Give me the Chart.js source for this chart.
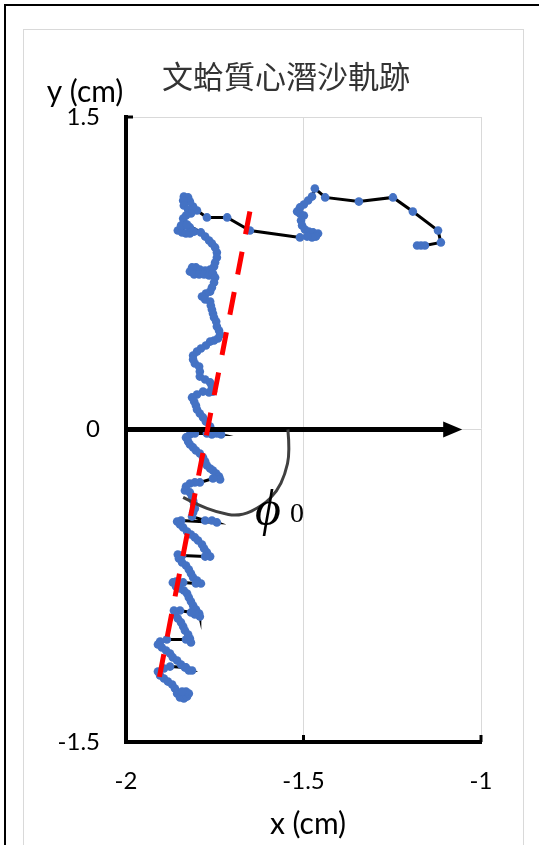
<!DOCTYPE html>
<html>
<head>
<meta charset="utf-8">
<style>
  html, body { margin: 0; padding: 0; background: #fff; }
  canvas { display: block; }
</style>
</head>
<body>
<canvas id="trackChart" width="539" height="845"></canvas>
<script src="https://cdn.jsdelivr.net/npm/chart.js@4.4.0/dist/chart.umd.min.js"></script>
<script>
// clam centroid track (cm)
const trackX = [
  -1.180,-1.169,-1.158,-1.113,-1.121,-1.192,-1.248,-1.344,-1.439,-1.468,
  -1.476,-1.487,-1.499,-1.510,-1.518,-1.510,-1.499,-1.507,-1.504,-1.496,
  -1.485,-1.473,-1.459,-1.465,-1.476,-1.490,-1.510,-1.651,-1.715,-1.772,
  -1.800,-1.811,-1.820,-1.825,-1.837,-1.839,-1.837,-1.825,-1.817,-1.831,
  -1.839,-1.837,-1.845,-1.854,-1.842,-1.831,-1.820,-1.808,-1.820,-1.831,
  -1.845,-1.828,-1.789,-1.777,-1.766,-1.758,-1.749,-1.744,-1.744,-1.749,
  -1.752,-1.763,-1.777,-1.792,-1.803,-1.814,-1.820,-1.808,-1.794,-1.780,
  -1.766,-1.755,-1.749,-1.752,-1.758,-1.763,-1.775,-1.786,-1.777,-1.763,
  -1.761,-1.758,-1.755,-1.752,-1.746,-1.744,-1.738,-1.735,-1.741,-1.752,
  -1.763,-1.775,-1.789,-1.800,-1.811,-1.811,-1.806,-1.794,-1.792,-1.792,
  -1.777,-1.763,-1.758,-1.755,-1.766,-1.783,-1.800,-1.814,-1.808,-1.803,
  -1.800,-1.792,-1.783,-1.775,-1.763,-1.755,-1.744,-1.732,-1.758,-1.772,
  -1.806,-1.820,-1.831,-1.825,-1.820,-1.811,-1.803,-1.792,-1.783,-1.777,
  -1.772,-1.763,-1.755,-1.746,-1.738,-1.735,-1.755,-1.792,-1.806,-1.820,
  -1.831,-1.834,-1.820,-1.814,-1.811,-1.808,-1.806,-1.811,-1.814,-1.777,
  -1.758,-1.744,-1.845,-1.856,-1.848,-1.839,-1.828,-1.817,-1.806,-1.797,
  -1.786,-1.780,-1.772,-1.763,-1.777,-1.842,-1.854,-1.851,-1.842,-1.831,
  -1.823,-1.817,-1.811,-1.800,-1.789,-1.803,-1.839,-1.859,-1.868,-1.859,
  -1.848,-1.837,-1.828,-1.823,-1.817,-1.811,-1.803,-1.794,-1.792,-1.806,
  -1.817,-1.848,-1.865,-1.862,-1.854,-1.845,-1.839,-1.834,-1.825,-1.820,
  -1.817,-1.831,-1.885,-1.904,-1.910,-1.899,-1.887,-1.876,-1.868,-1.856,
  -1.845,-1.834,-1.823,-1.814,-1.831,-1.876,-1.893,-1.910,-1.904,-1.893,
  -1.882,-1.870,-1.862,-1.856,-1.848,-1.837,-1.828,-1.823,-1.831,-1.842
];
const trackY = [
  0.883,0.883,0.883,0.898,0.955,1.046,1.114,1.094,1.114,1.157,
  1.118,1.099,1.080,1.066,1.046,1.037,1.027,1.003,0.979,0.960,
  0.950,0.946,0.941,0.926,0.922,0.926,0.922,0.955,1.018,1.018,
  1.051,1.070,1.094,1.114,1.118,1.099,1.075,1.056,1.037,1.027,
  1.013,0.994,0.970,0.955,0.946,0.941,0.941,0.950,0.970,0.979,
  0.979,0.984,0.946,0.926,0.907,0.893,0.874,0.850,0.826,0.802,
  0.782,0.768,0.763,0.768,0.778,0.778,0.758,0.744,0.744,0.744,
  0.739,0.749,0.730,0.706,0.682,0.662,0.653,0.638,0.624,0.614,
  0.595,0.576,0.557,0.538,0.518,0.494,0.475,0.456,0.437,0.427,
  0.422,0.403,0.389,0.374,0.355,0.336,0.317,0.302,0.278,0.254,
  0.240,0.226,0.206,0.182,0.178,0.182,0.168,0.154,0.134,0.115,
  0.096,0.077,0.058,0.038,0.014,-0.010,-0.019,-0.024,-0.024,-0.019,
  -0.019,-0.024,-0.038,-0.058,-0.072,-0.086,-0.101,-0.115,-0.134,-0.154,
  -0.173,-0.187,-0.197,-0.211,-0.226,-0.240,-0.235,-0.254,-0.254,-0.259,
  -0.274,-0.293,-0.302,-0.322,-0.341,-0.360,-0.379,-0.398,-0.418,-0.437,
  -0.437,-0.446,-0.437,-0.442,-0.456,-0.470,-0.490,-0.504,-0.518,-0.533,
  -0.552,-0.571,-0.590,-0.610,-0.610,-0.605,-0.600,-0.619,-0.638,-0.653,
  -0.672,-0.691,-0.710,-0.725,-0.739,-0.739,-0.734,-0.730,-0.734,-0.754,
  -0.763,-0.773,-0.787,-0.806,-0.826,-0.845,-0.864,-0.883,-0.898,-0.888,
  -0.878,-0.869,-0.869,-0.888,-0.907,-0.926,-0.946,-0.965,-0.984,-1.003,
  -1.022,-1.008,-1.008,-1.018,-1.032,-1.046,-1.061,-1.075,-1.094,-1.109,
  -1.128,-1.142,-1.157,-1.157,-1.142,-1.138,-1.147,-1.162,-1.181,-1.195,
  -1.210,-1.224,-1.243,-1.267,-1.286,-1.291,-1.282,-1.267,-1.258,-1.258
];

// red dashed trend line
const trendX = [-1.651, -1.910];
const trendY = [1.046, -1.224];

// arrow along y = 0 and the phi0 arc
const arrowX = [-2, -1.053];
const arcX = [-1.544, -1.538, -1.552, -1.575, -1.614, -1.679, -1.744, -1.800, -1.839];
const arcY = [0, -0.110, -0.216, -0.298, -0.365, -0.418, -0.398, -0.360, -0.326];
const phiPos = [-1.600, -0.394];

const xTicks = [-2, -1.5, -1];
const yTicks = [-1.5, 0, 1.5];

const toPoints = (xs, ys) => xs.map((x, i) => ({ x: x, y: ys[i] }));

const overlay = {
  id: 'overlay',
  beforeDraw(chart) {
    const ctx = chart.ctx;
    ctx.save();
    ctx.fillStyle = '#fff';
    ctx.fillRect(0, 0, chart.width, chart.height);
    ctx.strokeStyle = '#000';
    ctx.lineWidth = 2;
    ctx.strokeRect(5, 5, 600, 900);
    ctx.strokeStyle = '#d9d9d9';
    ctx.lineWidth = 1;
    ctx.strokeRect(23.5, 29.5, 500, 900);
    ctx.restore();
  },
  beforeDatasetDraw(chart, args) {
    if (args.index !== 0) return;
    const ctx = chart.ctx;
    const xs = chart.scales.x, ys = chart.scales.y;
    ctx.save();
    // arrow
    const y0 = ys.getPixelForValue(0);
    const xa = xs.getPixelForValue(arrowX[0]);
    const xb = xs.getPixelForValue(arrowX[1]);
    ctx.strokeStyle = '#000';
    ctx.fillStyle = '#000';
    ctx.lineWidth = 5;
    ctx.beginPath();
    ctx.moveTo(xa, y0);
    ctx.lineTo(xb - 14, y0);
    ctx.stroke();
    ctx.beginPath();
    ctx.moveTo(xb, y0);
    ctx.lineTo(xb - 19, y0 - 8);
    ctx.lineTo(xb - 19, y0 + 8);
    ctx.closePath();
    ctx.fill();
    // arc
    const pts = arcX.map((x, i) => [xs.getPixelForValue(x), ys.getPixelForValue(arcY[i])]);
    ctx.strokeStyle = '#404040';
    ctx.lineWidth = 3;
    ctx.beginPath();
    ctx.moveTo(pts[0][0], pts[0][1]);
    for (let i = 1; i < pts.length - 1; i++) {
      const mx = (pts[i][0] + pts[i + 1][0]) / 2;
      const my = (pts[i][1] + pts[i + 1][1]) / 2;
      ctx.quadraticCurveTo(pts[i][0], pts[i][1], mx, my);
    }
    ctx.lineTo(pts[pts.length - 1][0], pts[pts.length - 1][1]);
    ctx.stroke();
    ctx.restore();
  },
  afterDraw(chart) {
    const ctx = chart.ctx;
    const xs = chart.scales.x, ys = chart.scales.y;
    const area = chart.chartArea;
    ctx.save();
    // inside tick marks
    ctx.strokeStyle = '#000';
    ctx.lineWidth = 3;
    xTicks.forEach(v => {
      const px = xs.getPixelForValue(v);
      ctx.beginPath();
      ctx.moveTo(px, area.bottom);
      ctx.lineTo(px, area.bottom - 7);
      ctx.stroke();
    });
    yTicks.forEach(v => {
      const py = ys.getPixelForValue(v);
      ctx.beginPath();
      ctx.moveTo(area.left, py);
      ctx.lineTo(area.left + 7, py);
      ctx.stroke();
    });
    // titles
    ctx.textAlign = 'center';
    ctx.textBaseline = 'middle';
    ctx.fillStyle = '#333';
    ctx.font = '31px "Noto Sans CJK TC"';
    ctx.fillText('文蛤質心潛沙軌跡', 286, 76);
    ctx.fillStyle = '#000';
    ctx.font = '30px Lato';
    ctx.fillText('y (cm)', 85, 92);
    ctx.fillText('x (cm)', 308, 824);
    // phi0 label
    const fx = xs.getPixelForValue(phiPos[0]);
    const fy = ys.getPixelForValue(phiPos[1]);
    ctx.font = 'italic 50px "Liberation Serif", "DejaVu Serif"';
    ctx.fillText('\u03D5', fx, fy);
    ctx.font = '28px "Liberation Serif", "DejaVu Serif"';
    ctx.fillText('0', fx + 29, fy + 3);
    ctx.restore();
  }
};

new Chart(document.getElementById('trackChart'), {
  type: 'scatter',
  data: {
    datasets: [
      {
        label: 'trend',
        data: toPoints(trendX, trendY),
        showLine: true,
        borderColor: '#ff0000',
        borderWidth: 5,
        borderDash: [23, 18],
        pointRadius: 0,
        order: 0,
      },
      {
        label: 'track',
        data: toPoints(trackX, trackY),
        showLine: true,
        borderColor: '#000',
        borderWidth: 3,
        pointRadius: 4.3,
        pointBackgroundColor: '#4472C4',
        pointBorderColor: '#4472C4',
        pointBorderWidth: 0,
        order: 1,
      },
    ],
  },
  options: {
    responsive: false,
    animation: false,
    events: [],
    layout: { padding: { left: 0, top: 117, right: 58, bottom: 0 } },
    plugins: { legend: { display: false }, tooltip: { enabled: false }, title: { display: false } },
    scales: {
      x: {
        type: 'linear',
        min: -2,
        max: -1,
        afterBuildTicks: s => { s.ticks = xTicks.map(v => ({ value: v })); },
        afterFit: s => { s.height = 103; },
        grid: { color: '#d9d9d9', lineWidth: 1, drawTicks: false },
        border: { display: true, color: '#000', width: 4 },
        ticks: { color: '#000', font: { family: 'Lato', size: 24 }, padding: 25, maxRotation: 0, callback: v => String(v) },
      },
      y: {
        type: 'linear',
        min: -1.5,
        max: 1.5,
        afterBuildTicks: s => { s.ticks = yTicks.map(v => ({ value: v })); },
        afterFit: s => { s.width = 126; },
        grid: { color: '#d9d9d9', lineWidth: 1, drawTicks: false },
        border: { display: true, color: '#000', width: 4 },
        ticks: { color: '#000', font: { family: 'Lato', size: 24 }, padding: 26, callback: v => String(v) },
      },
    },
  },
  plugins: [overlay],
});
</script>
</body>
</html>
